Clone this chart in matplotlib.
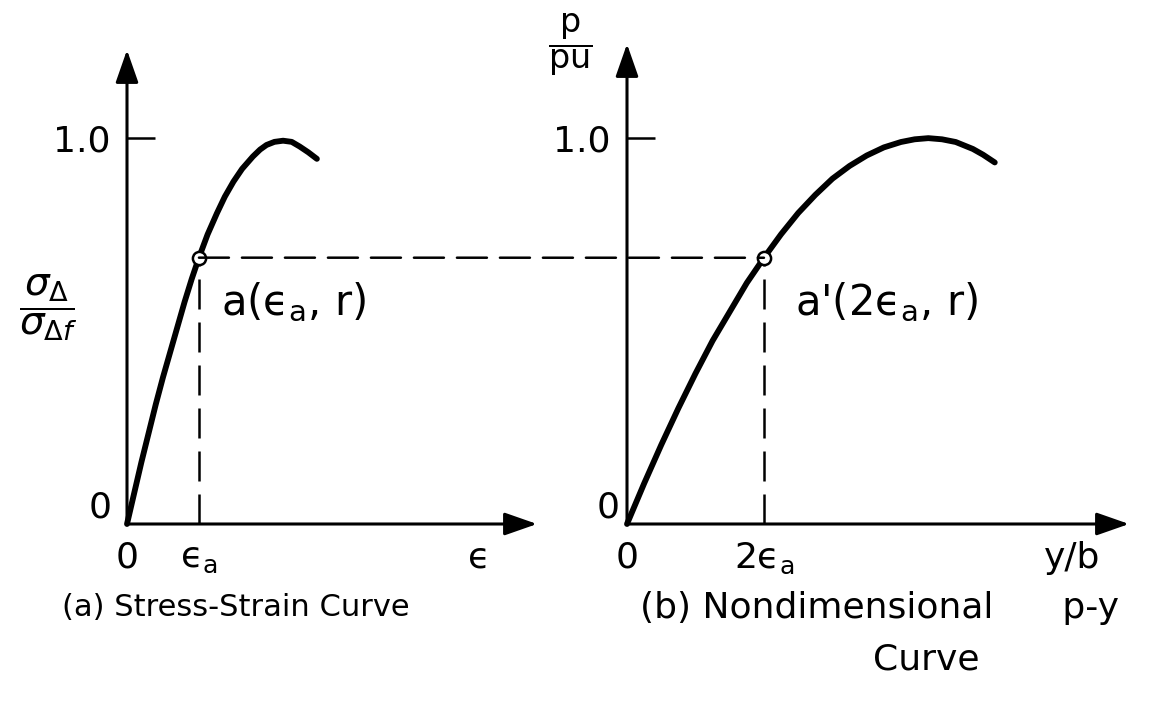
import matplotlib
matplotlib.use("Agg")
import matplotlib.pyplot as plt
from matplotlib.patches import ConnectionPatch

plt.rcParams['font.family'] = ['DejaVu Sans']
plt.rcParams['mathtext.fontset'] = 'dejavusans'

# (a) stress-strain curve, strain in units of eps_a
strain = [0, 0.1, 0.2, 0.3, 0.4, 0.5, 0.6, 0.7, 0.8, 0.9, 1.0,
          1.12, 1.25, 1.36, 1.48, 1.6, 1.75, 1.85, 1.94, 2.05, 2.17,
          2.29, 2.40, 2.52, 2.64]
stress_ratio = [0, 0.08, 0.16, 0.235, 0.31, 0.38, 0.445, 0.51, 0.575, 0.635, 0.69,
                0.75, 0.805, 0.848, 0.887, 0.92, 0.952, 0.97, 0.982, 0.99, 0.993,
                0.99, 0.978, 0.963, 0.946]

# (b) nondimensional p-y curve, y/b in units of eps_a
yb = [0, 0.25, 0.5, 0.75, 1.0, 1.25, 1.5, 1.75, 2.0,
      2.25, 2.5, 2.75, 3.0, 3.25, 3.5, 3.75, 4.0, 4.2, 4.4,
      4.6, 4.8, 5.05, 5.2, 5.37]
p_ratio = [0, 0.105, 0.205, 0.30, 0.39, 0.475, 0.55, 0.625, 0.69,
           0.751, 0.806, 0.853, 0.895, 0.928, 0.955, 0.976, 0.99, 0.997, 1.0,
           0.997, 0.99, 0.972, 0.957, 0.937]

point_a = (1.0, 0.69)
point_a2 = (2.0, 0.69)

W, H = 1155, 701
fig = plt.figure(figsize=(W / 100, H / 100), dpi=100)


def axes_px(x0, y_top, x1, y_bot):
    return fig.add_axes([x0 / W, 1 - y_bot / H, (x1 - x0) / W, (y_bot - y_top) / H])


ax1 = axes_px(127, 50, 537, 524)
ax1.set_xlim(0, 5.7)
ax1.set_ylim(0, 1.228)
ax2 = axes_px(627, 44, 1129, 524)
ax2.set_xlim(0, 7.33)
ax2.set_ylim(0, 1.244)

LW_AX = 2.2
LW_CURVE = 4.2
LW_DASH = 1.8
DASH = (0, (12, 5.2))
FS = 26
EPS = '\u03f5'

for ax, zx in ((ax1, -0.375), (ax2, -0.28)):
    for s in ax.spines.values():
        s.set_visible(False)
    ax.patch.set_visible(False)
    xmax = ax.get_xlim()[1]
    ymax = ax.get_ylim()[1]
    arrow = dict(arrowstyle='-|>,head_length=2.0,head_width=0.7', lw=LW_AX,
                 color='black', mutation_scale=10, shrinkA=0, shrinkB=0)
    ax.annotate('', xy=(xmax, 0), xytext=(0, 0), arrowprops=arrow,
                annotation_clip=False)
    ax.annotate('', xy=(0, ymax), xytext=(0, 0), arrowprops=arrow,
                annotation_clip=False)
    ax.set_yticks([1.0])
    ax.set_yticklabels(['1.0'], fontsize=FS)
    ax.tick_params(axis='y', direction='in', length=20, width=1.8, pad=12)
    ax.set_xticks([])
    ax.text(zx, 0.044, '0', fontsize=FS, ha='center', va='center')

# curves
ax1.plot(strain, stress_ratio, color='black', lw=LW_CURVE,
         solid_capstyle='round', solid_joinstyle='round', clip_on=False)
ax2.plot(yb, p_ratio, color='black', lw=LW_CURVE,
         solid_capstyle='round', solid_joinstyle='round', clip_on=False)

# projection lines
ax1.plot([point_a[0], point_a[0]], [0, point_a[1]], color='black', lw=LW_DASH, ls=DASH)
ax2.plot([point_a2[0], point_a2[0]], [0, point_a2[1]], color='black', lw=LW_DASH, ls=DASH)
con = ConnectionPatch(xyA=point_a, coordsA=ax1.transData,
                      xyB=point_a2, coordsB=ax2.transData,
                      color='black', lw=LW_DASH, ls=DASH, zorder=1)
fig.add_artist(con)

for ax, pt in ((ax1, point_a), (ax2, point_a2)):
    ax.plot(*pt, marker='o', ms=9.5, mfc='white', mec='black', mew=1.8,
            zorder=5, clip_on=False)

# x-axis labels
YL = -0.088
ax1.text(0, YL, '0', fontsize=FS, ha='center', va='center')
ax1.text(1.0, YL, r'$\mathregular{%s_a}$' % EPS, fontsize=FS, ha='center', va='center')
ax1.text(4.9, YL, EPS, fontsize=FS, ha='center', va='center')
ax2.text(0, YL, '0', fontsize=FS, ha='center', va='center')
ax2.text(2.0, YL, r'$\mathregular{2%s_a}$' % EPS, fontsize=FS, ha='center', va='center')
ax2.text(6.5, YL, 'y/b', fontsize=FS, ha='center', va='center')

# point annotations
ax1.text(1.3, 0.573, r'a($\mathregular{%s_a}$, r)' % EPS, fontsize=30,
         ha='left', va='center')
ax2.text(2.45, 0.573, r"a'(2$\mathregular{%s_a}$, r)" % EPS, fontsize=30,
         ha='left', va='center')

# axis titles
fig.text(48 / W, 1 - 308 / H, r'$\dfrac{\sigma_\Delta}{\sigma_{\Delta f}}$',
         fontsize=28, ha='center', va='center')
fig.text(570 / W, 1 - 45 / H, r'$\dfrac{\mathrm{p}}{\mathrm{pu}}$',
         fontsize=24, ha='center', va='center')

# captions
fig.text(236 / W, 1 - 608 / H, '(a) Stress-Strain Curve', fontsize=22,
         ha='center', va='center')
fig.text(640 / W, 1 - 608 / H, '(b) Nondimensional      p-y', fontsize=26,
         ha='left', va='center')
fig.text(926 / W, 1 - 660 / H, 'Curve', fontsize=26, ha='center', va='center')

fig.savefig('out.png', dpi=100, facecolor='white')
